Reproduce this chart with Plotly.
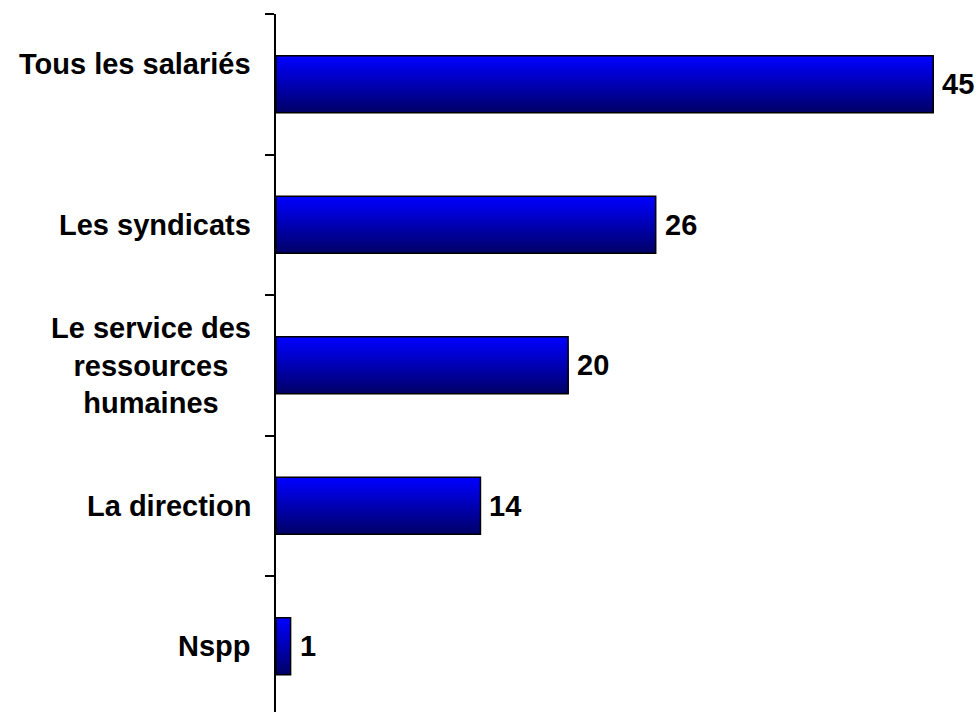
import plotly.graph_objects as go

# Survey answers: share of respondents (%)
categories = ["Tous les salariés", "Les syndicats", "Le service des ressources humaines",
              "La direction", "Nspp"]
labels = ["Tous les salariés", "Les syndicats", "Le service des<br>ressources<br>humaines",
          "La direction", "Nspp"]
values = [45, 26, 20, 14, 1]

FONT = "Liberation Sans, Arial, sans-serif"
BAR_W = 0.405
N_BANDS = 30
TOP_RGB = (0, 0, 255)
BOTTOM_RGB = (0, 0, 105)

fig = go.Figure()

# Vertical gradient inside each bar: stacked overlapping slices, top to bottom
step = BAR_W / N_BANDS
for i in range(N_BANDS):
    t = i / (N_BANDS - 1)
    rgb = tuple(round(a + (b - a) * t) for a, b in zip(TOP_RGB, BOTTOM_RGB))
    fig.add_trace(go.Bar(
        x=values, y=categories, orientation="h",
        offset=-BAR_W / 2 + i * step, width=BAR_W - i * step,
        marker=dict(color=f"rgb{rgb}", line=dict(width=0)),
        hoverinfo="skip", showlegend=False,
    ))

# Black outline on top
fig.add_trace(go.Bar(
    x=values, y=categories, orientation="h",
    offset=-BAR_W / 2, width=BAR_W,
    marker=dict(color="rgba(0,0,0,0)", line=dict(color="black", width=1.5)),
    showlegend=False,
))

# Value labels at the bar ends
for c, v in zip(categories, values):
    fig.add_annotation(x=v, y=c, xref="x", yref="y", text=str(v),
                       showarrow=False, xanchor="left", xshift=7,
                       font=dict(family=FONT, size=29, color="black", weight="bold"))

# Category labels, centred lines, right-aligned to the axis
# (the first label sits half a line higher, as if followed by an empty line)
for k, (c, lab) in enumerate(zip(categories, labels)):
    fig.add_annotation(x=0, y=c, xref="paper", yref="y", text=lab,
                       showarrow=False, xanchor="right", xshift=-23,
                       yshift=20 if k == 0 else 0, align="center",
                       font=dict(family=FONT, size=29, color="black", weight="bold"))

fig.update_layout(
    width=977, height=712,
    margin=dict(l=276, r=0, t=14, b=0),
    paper_bgcolor="white", plot_bgcolor="white",
    barmode="overlay",
    xaxis=dict(range=[0, 48], visible=False, fixedrange=True),
    yaxis=dict(
        type="category", categoryorder="array", categoryarray=categories,
        range=[4.468, -0.5],
        showticklabels=False, showgrid=False, zeroline=False,
        showline=True, linecolor="black", linewidth=1.5,
        ticks="outside", tickson="boundaries", ticklen=9,
        tickcolor="black", tickwidth=1.5,
    ),
)

fig.write_html("out.html")
